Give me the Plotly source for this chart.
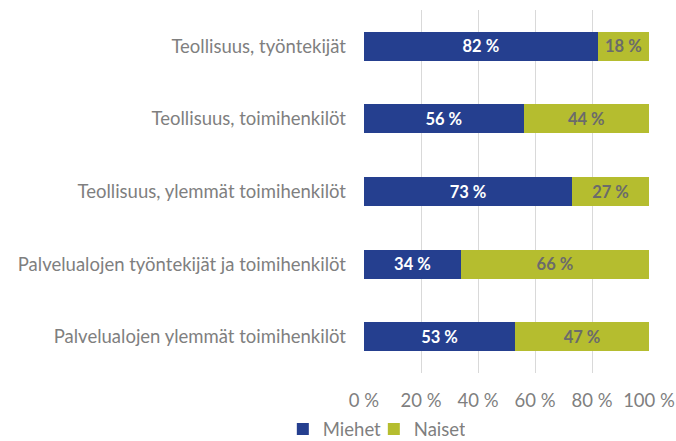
import plotly.graph_objects as go

categories = ["Teollisuus, työntekijät", "Teollisuus, toimihenkilöt",
              "Teollisuus, ylemmät toimihenkilöt",
              "Palvelualojen työntekijät ja toimihenkilöt",
              "Palvelualojen ylemmät toimihenkilöt"]
miehet = [82, 56, 73, 34, 53]
naiset = [18, 44, 27, 66, 47]
tick_vals = [0, 20, 40, 60, 80, 100]
tick_text = ["0 %", "20 %", "40 %", "60 %", "80 %", "100 %"]

font_family = "Lato"
fs = 18.5

fig = go.Figure()
fig.add_trace(go.Bar(
    y=categories, x=miehet, name="Miehet", orientation="h",
    marker=dict(color="#253F8F", line=dict(width=0)),
    text=[f"{v} %" for v in miehet], textposition="inside",
    insidetextanchor="middle",
    textfont=dict(color="white", size=16.5, family=font_family, weight="bold"),
))
fig.add_trace(go.Bar(
    y=categories, x=naiset, name="Naiset", orientation="h",
    marker=dict(color="#B5BD2F", line=dict(width=0)),
    text=[f"{v} %" for v in naiset], textposition="inside",
    insidetextanchor="middle",
    textfont=dict(color="#6B6B6B", size=16.5, family=font_family, weight="bold"),
))

fig.update_layout(
    width=676, height=441,
    barmode="stack", bargap=0.6,
    paper_bgcolor="white", plot_bgcolor="white",
    margin=dict(l=364, r=27, t=10, b=68, autoexpand=False),
    font=dict(family=font_family, color="#7F7F7F", size=fs),
    uniformtext=dict(mode=False),
    xaxis=dict(range=[0, 100], tickvals=tick_vals, ticktext=tick_text,
               showgrid=True, gridcolor="#D9D9D9", gridwidth=1,
               zeroline=False, showline=False, ticks="", automargin=False,
               tickfont=dict(size=fs, color="#7F7F7F"), ticklabelstandoff=14),
    yaxis=dict(autorange="reversed", showgrid=False, zeroline=False,
               showline=False, ticks="", ticklabelstandoff=17, automargin=False,
               tickfont=dict(size=fs, color="#7F7F7F")),
    legend=dict(orientation="h", x=0.553, xref="container", xanchor="center",
                y=0.026, yref="container", yanchor="middle",
                bgcolor="rgba(0,0,0,0)",
                font=dict(size=fs, color="#7F7F7F"),
                itemwidth=30, entrywidth=46, entrywidthmode="pixels",
                traceorder="normal"),
    showlegend=True,
)

fig.write_html(
    "out.html",
    config={"displayModeBar": False},
    post_script="document.body.style.margin='0';document.body.style.overflow='hidden';",
)
